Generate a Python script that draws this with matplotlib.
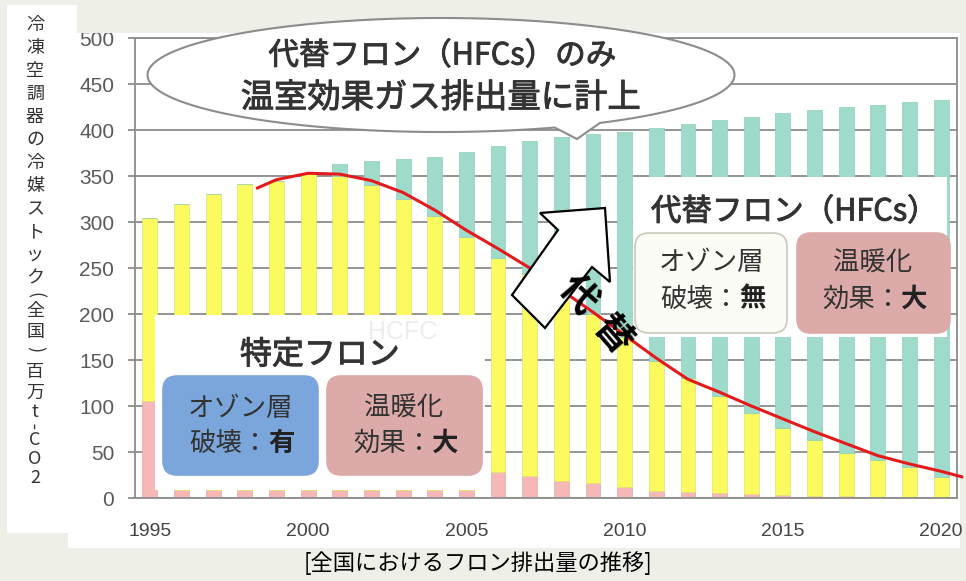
import numpy as np
import matplotlib
matplotlib.use("Agg")
import matplotlib.pyplot as plt
import matplotlib.patheffects as pe
from matplotlib.patches import Rectangle, FancyBboxPatch, Polygon

plt.rcParams['font.family'] = ['Noto Sans CJK JP', 'DejaVu Sans']

years = list(range(1995, 2021))
# 特定フロン (CFC) - pink
cfc = [105, 9, 9, 9, 9, 9, 9, 9, 9, 9, 9, 28, 24, 18, 16, 12, 8, 7, 5, 4, 3, 2, 2, 1, 1, 1]
# top of CFC + HCFC (yellow top)
cfc_hcfc = [304, 320, 330, 341, 345, 353, 350, 340, 325, 306, 284, 261, 243, 222, 200, 175,
            149, 130, 111, 92, 76, 63, 49, 41, 34, 23]
# total incl. HFC (teal top)
total = [304, 320, 330, 341, 345, 353, 363, 366, 369, 371, 376, 383, 388, 392, 396, 398,
         402, 407, 411, 414, 418, 422, 425, 427, 430, 433]
hcfc = [a - b for a, b in zip(cfc_hcfc, cfc)]
hfc = [t - a for t, a in zip(total, cfc_hcfc)]

# red trend curve
curve_x = [1998.4, 1999, 2000, 2001, 2002, 2003, 2004, 2005, 2006, 2007, 2008, 2009, 2010,
           2011, 2012, 2013, 2014, 2015, 2016, 2017, 2018, 2019, 2020, 2020.65]
curve_y = [337, 346, 353, 352, 345, 332, 313, 291, 271, 250, 226, 202, 177,
           152, 129, 115, 100, 86, 72, 59, 46, 37, 29, 23]

yticks = list(range(0, 501, 50))
xticks = [1995, 2000, 2005, 2010, 2015, 2020]

W, H = 966, 581
bg = '#eef0e8'
fig = plt.figure(figsize=(W / 100, H / 100), dpi=100, facecolor=bg)
T = fig.dpi_scale_trans
thick = [pe.withStroke(linewidth=0.7, foreground='#333333')]


def P(x, y):
    return (x / 100, (H - y) / 100)


def rect(x0, y0, x1, y1, **kw):
    p = Rectangle(P(x0, y1), (x1 - x0) / 100, (y1 - y0) / 100, transform=T, **kw)
    fig.add_artist(p)
    return p


def rbox(x0, y0, x1, y1, fc, ec, z=5):
    p = FancyBboxPatch(P(x0, y1), (x1 - x0) / 100, (y1 - y0) / 100,
                       boxstyle="round,pad=0,rounding_size=0.14", transform=T,
                       fc=fc, ec=ec, lw=1.2, zorder=z)
    fig.add_artist(p)


def txt(x, y, s, **kw):
    kw.setdefault('ha', 'center')
    kw.setdefault('va', 'center')
    kw.setdefault('zorder', 7)
    fig.text(*P(x, y), s, transform=T, **kw)


# white panels
rect(68, 33, 960, 548, fc='white', ec='none', zorder=-2)
rect(7, 5, 77, 533, fc='white', ec='none', zorder=-2)

ax = fig.add_axes([135 / W, 1 - 498 / H, (957 - 135) / W, (498 - 38) / H])
ax.set_facecolor('white')
ax.set_xlim(1994.53, 2020.5)
ax.set_ylim(0, 500)

bw = 0.47
ax.bar(years, cfc, width=bw, color='#f6b8b6', edgecolor='#e0a8a4', lw=0.5, zorder=2)
ax.bar(years, hcfc, width=bw, bottom=cfc, color='#fbfb60', edgecolor='#e2e270', lw=0.5, zorder=2)
ax.bar(years, hfc, width=bw, bottom=cfc_hcfc, color='#9edbca', edgecolor='#8ecfbd', lw=0.5, zorder=2)
ax.plot(curve_x, curve_y, color='#e41a1c', lw=2.2, zorder=3, clip_on=False)

ax.set_yticks(yticks)
ax.set_xticks(xticks)
ax.yaxis.grid(True, color='#8c8c8c', lw=1.3)
ax.set_axisbelow(True)
for s in ax.spines.values():
    s.set_color('#8c8c8c')
    s.set_linewidth(1.3)
ax.tick_params(axis='y', direction='out', length=5, color='#8c8c8c', width=1.3,
               labelsize=15, labelcolor='#5a5a5a', pad=10)
ax.tick_params(axis='x', length=0, labelsize=14, labelcolor='#444444', pad=18)
for lb in ax.get_yticklabels() + ax.get_xticklabels():
    lb.set_family(['Liberation Sans'])

# grey band on top (cuts the 500 label)
rect(77, 0, 966, 33, fc=bg, ec='none', zorder=1)
rect(0, 548, 966, 581, fc=bg, ec='none', zorder=1)

# speech bubble
cx, cy, a, b = 441, 75, 293.5, 57
t1 = np.linspace(0, np.radians(57.2), 30)
t2 = np.linspace(np.radians(67.2), 2 * np.pi, 200)
pts = [P(cx + a * np.cos(t), cy + b * np.sin(t)) for t in t1]
pts.append(P(577, 139))
pts += [P(cx + a * np.cos(t), cy + b * np.sin(t)) for t in t2]
fig.add_artist(Polygon(pts, closed=True, transform=T, fc='white', ec='#8c8c8c', lw=1.5, zorder=2))
txt(442, 56, '代替フロン（HFCs）のみ', fontsize=22, color='#333333', path_effects=thick)
txt(441, 98, '温室効果ガス排出量に計上', fontsize=24, color='#333333', path_effects=thick)

# right group: 代替フロン
rect(633, 177, 947, 337, fc='white', ec='none', zorder=4)
txt(794, 212, '代替フロン（HFCs）', fontsize=22, color='#333333', path_effects=thick)
rbox(635, 233, 787, 333, '#fcfcf7', '#c9c9bb')
rbox(797, 233, 950, 333, '#dcaaa8', '#dcaaa8')
txt(711, 263, 'オゾン層', fontsize=19, color='#333333')
txt(739, 299, '破壊：', fontsize=19, color='#333333', ha='right')
txt(739, 299, '無', fontsize=19, color='#222222', ha='left', weight='bold')
txt(873, 263, '温暖化', fontsize=19, color='#333333')
txt(901, 299, '効果：', fontsize=19, color='#333333', ha='right')
txt(901, 299, '大', fontsize=19, color='#222222', ha='left', weight='bold')

# left group: 特定フロン
rect(155, 315, 485, 490, fc='white', ec='none', zorder=4)
txt(403, 332, 'HCFC', fontsize=18, color='#ededed', family='Liberation Sans', zorder=5)
txt(320, 355, '特定フロン', fontsize=23, color='#333333', path_effects=thick)
rbox(163, 376, 318, 475, '#7ba6db', '#7ba6db')
rbox(327, 376, 482, 475, '#dcaaa8', '#dcaaa8')
txt(240, 408, 'オゾン層', fontsize=19, color='#333333')
txt(268, 443, '破壊：', fontsize=19, color='#333333', ha='right')
txt(268, 443, '有', fontsize=19, color='#222222', ha='left', weight='bold')
txt(404, 408, '温暖化', fontsize=19, color='#333333')
txt(432, 443, '効果：', fontsize=19, color='#333333', ha='right')
txt(432, 443, '大', fontsize=19, color='#222222', ha='left', weight='bold')

# big arrow 代替
arrow = [(605, 208), (540, 213), (558, 230), (512, 295), (545, 328), (592, 267), (610, 282)]
fig.add_artist(Polygon([P(x, y) for x, y in arrow], closed=True, transform=T,
                       fc='white', ec='black', lw=1.6, zorder=5))
txt(578, 295, '代', fontsize=27, weight='bold', color='black', rotation=-49)
txt(613, 335, '替', fontsize=27, weight='bold', color='black', rotation=-49)

# vertical y label, one character per row
ylab = list('冷凍空調器の冷媒ストック') + ['(', '全', '国', ')', '百', '万', 't', '-', 'C', 'O', '2']
ypos = [25, 48, 71, 94, 117, 140, 163, 186, 209, 232, 255, 278,
        295, 311, 332, 349, 372, 393, 412, 426, 440, 459, 478]
yrot = {'(': -90, ')': -90, '-': 90}
for ch, yy in zip(ylab, ypos):
    txt(35, yy, ch, fontsize=13, color='#333333', rotation=yrot.get(ch, 0))

# caption
txt(478, 563, '[全国におけるフロン排出量の推移]', fontsize=16, color='black')

fig.savefig('out.png', dpi=100, facecolor=bg)
